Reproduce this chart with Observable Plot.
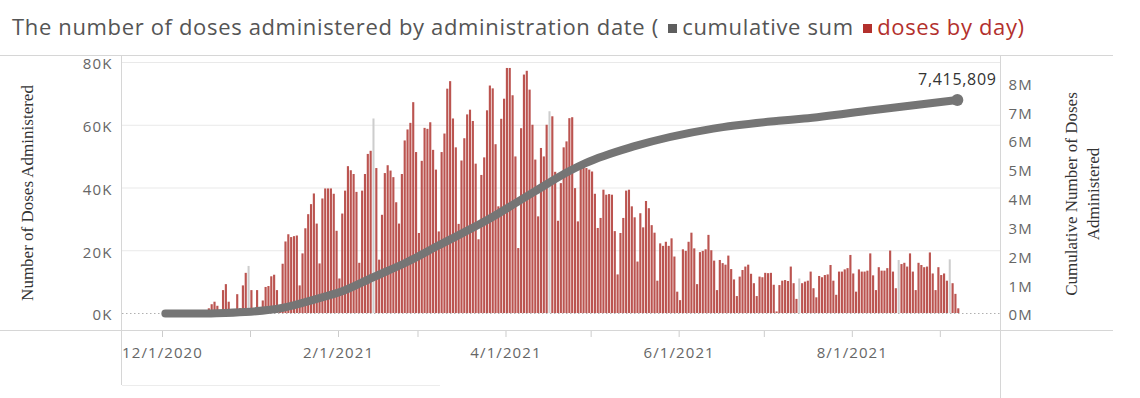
<!DOCTYPE html>
<html><head><meta charset="utf-8">
<script src="https://cdn.jsdelivr.net/npm/d3@7"></script>
<script src="https://cdn.jsdelivr.net/npm/@observablehq/plot@0.6"></script>
<style>
html,body{margin:0;padding:0;background:#fff;}
#wrap{position:relative;width:1140px;height:398px;overflow:hidden;background:#fff;}
#title{position:absolute;left:12px;top:12px;font-family:"Open Sans",sans-serif;font-size:22px;letter-spacing:0.65px;line-height:28px;color:#555;white-space:nowrap;}
.sq{display:inline-block;width:9px;height:9px;margin:0 5px 2px 3px;vertical-align:middle;}
#chart{position:absolute;left:0;top:50px;}
#chart [aria-label$="tick label"] text{letter-spacing:1.1px;}
#chart .valuelabel text{letter-spacing:0.7px;}
</style></head><body>
<div id="wrap">
<div id="title">The number of doses administered by administration date ( <span class="sq" style="background:#5e5e5e"></span>cumulative sum <span class="sq" style="background:#b3302d"></span><span style="color:#b3302d">doses by day)</span></div>
<div id="chart"></div>
</div>
<script>
// ---- data ----
const startDate = "2020-12-15";           // first daily bar
const dosesByDayK = [                     // thousands of doses, one per day
  0.3, 0.8, 1.5, 2.8, 3.6, 2.3, 0.6, 7.3, 9.2, 3.6, 0.3, 0.5, 6.0, 1.5,
  8.8, 12.8, 15.0, 7.3, 0.8, 7.3, 1.0, 4.0, 8.3, 8.6, 11.7, 12.2, 7.3, 1.5,
  15.7, 22.8, 25.1, 24.2, 24.5, 24.7, 8.8,
  19.0, 27.0, 31.5, 34.7, 38.1, 28.5, 15.8,
  36.5, 39.7, 39.7, 39.7, 38.0, 26.2, 11.0,
  31.7, 39.0, 46.8, 45.5, 44.3, 38.6, 16.0,
  39.0, 44.3, 50.7, 51.7, 62.0, 46.2, 17.0,
  31.3, 44.6, 47.1, 45.4, 43.3, 35.3, 28.5,
  44.3, 55.0, 58.5, 60.6, 67.2, 51.3, 25.5,
  48.5, 59.0, 58.7, 60.8, 52.0, 45.7, 26.0,
  51.3, 57.2, 71.5, 73.9, 62.0, 52.8, 28.4,
  48.6, 55.7, 63.3, 64.8, 61.2, 47.6, 23.5,
  44.0, 49.6, 64.6, 72.5, 71.6, 53.8, 34.0,
  61.9, 68.3, 78.1, 78.1, 69.4, 49.9, 20.7,
  58.9, 76.0, 77.2, 71.2, 60.0, 48.9, 30.8,
  52.6, 49.9, 60.0, 64.3, 62.7, 45.0, 29.4,
  41.4, 52.8, 54.7, 62.1, 62.4, 39.8, 29.2,
  46.2, 46.7, 46.2, 45.7, 45.1, 38.0, 27.1,
  30.3, 39.3, 37.7, 37.9, 37.7, 26.1, 12.3,
  25.5, 30.3, 39.0, 39.3, 34.0, 30.5, 16.4,
  31.8, 27.3, 35.7, 33.4, 28.0, 25.6, 10.3,
  22.2, 21.4, 22.7, 21.4, 23.8, 18.0, 6.8,
  4.1, 20.3, 19.8, 22.7, 25.6, 20.6, 9.2,
  19.4, 19.8, 20.3, 24.9, 20.0, 16.7, 7.3,
  16.9, 15.9, 15.4, 18.3, 14.0, 10.7, 5.4,
  11.6, 13.7, 14.8, 15.4, 12.5, 9.5, 5.4,
  11.6, 11.4, 12.8, 12.7, 12.8, 9.0, 0.5,
  8.9, 10.3, 10.5, 10.2, 14.8, 9.5, 4.5,
  11.0, 9.5, 10.0, 10.3, 13.2, 7.9, 5.0,
  11.8, 11.4, 12.1, 12.3, 15.3, 10.3, 5.8,
  13.2, 13.2, 13.9, 14.3, 18.5, 12.6, 6.8,
  13.9, 13.2, 13.2, 13.5, 19.0, 12.0, 7.3,
  14.6, 13.5, 13.5, 14.3, 19.9, 13.2, 7.9,
  16.9, 15.6, 16.0, 14.8, 19.0, 13.2, 7.3,
  16.0, 15.3, 14.6, 14.8, 19.3, 12.6, 7.3,
  14.6, 12.1, 12.6, 10.3, 17.1, 9.5, 6.1, 1.5
];
const greyDays = ["2020-12-31", "2021-02-13", "2021-04-16", "2021-07-13", "2021-08-17", "2021-09-04"];

const cumDates = ["2020-12-02", "2020-12-14", "2020-12-20", "2020-12-30", "2021-01-12", "2021-01-24",
  "2021-02-03", "2021-02-13", "2021-02-25", "2021-03-08", "2021-03-26", "2021-04-11", "2021-04-23",
  "2021-04-29", "2021-05-16", "2021-06-13", "2021-07-06", "2021-07-15", "2021-08-08", "2021-09-07"];
const cumValuesM = [0, 0, 0.01, 0.05, 0.19, 0.50, 0.80, 1.25, 1.78, 2.35, 3.28, 4.23, 4.93,
  5.22, 5.80, 6.42, 6.69, 6.77, 7.06, 7.415809];
const finalTotal = 7415809;

const leftTicksK = [0, 20, 40, 60, 80];
const rightTicksM = [0, 1, 2, 3, 4, 5, 6, 7, 8];
const monthTicks = ["2020-12-01", "2021-01-01", "2021-02-01", "2021-03-01", "2021-04-01", "2021-05-01",
  "2021-06-01", "2021-07-01", "2021-08-01", "2021-09-01"];
const xTickLabels = ["12/1/2020", "", "2/1/2021", "", "4/1/2021", "", "6/1/2021", "", "8/1/2021", ""];

const leftAxisTitle = "Number of Doses Administered";
const rightAxisTitle = "Cumulative Number of Doses\nAdministered";

// ---- build tables ----
const start = new Date(startDate + "T00:00Z");
const greySet = new Set(greyDays);
const daily = dosesByDayK.map((v, i) => {
  const date = d3.utcDay.offset(start, i);
  return {date, value: v * 1000, grey: greySet.has(d3.utcFormat("%Y-%m-%d")(date))};
});
const dualRatio = 0.00918; // cumulative doses -> left-axis units (dual axis)
const cum = cumDates.map((d, i) => ({date: new Date(d + "T00:00Z"), value: cumValuesM[i] * 1e6 * dualRatio}));
const last = [{date: cum[cum.length - 1].date, value: finalTotal * dualRatio, label: d3.format(",")(finalTotal)}];
const tickDates = monthTicks.map(d => new Date(d + "T00:00Z"));
const labelByTime = new Map(tickDates.map((d, i) => [d.getTime(), xTickLabels[i]]));

const x0 = new Date("2020-11-16T21:50Z"), x1 = new Date("2021-09-22T04:50Z");

const chart = Plot.plot({
  width: 1140, height: 348,
  marginLeft: 122, marginRight: 140, marginTop: 12, marginBottom: 85,
  x: {type: "utc", domain: [x0, x1]},
  y: {domain: [0, 80000]},
  style: {fontFamily: "'Open Sans', sans-serif", fontSize: "15px", color: "#666", background: "#fff"},
  marks: [
    Plot.gridY(leftTicksK.filter(k => k > 0).map(k => k * 1000), {stroke: "#e9e9e9", strokeOpacity: 1}),
    Plot.ruleY([0], {stroke: "#b0b0b0", strokeDasharray: "1.5,2.5"}),
    Plot.rectY(daily.filter(d => d.grey), {x: "date", interval: "day", y: "value", fill: "#cdcdcd", insetLeft: 0.4, insetRight: 0.4}),
    Plot.rectY(daily.filter(d => !d.grey), {x: "date", interval: "day", y: "value", fill: "#bb5450", insetLeft: 0.35, insetRight: 0.35}),
    Plot.line(cum, {x: "date", y: "value", stroke: "#757575", strokeWidth: 8, curve: "monotone-x", strokeLinecap: "round", strokeLinejoin: "round"}),
    Plot.dot(last, {x: "date", y: "value", r: 6, fill: "#757575"}),
    Plot.text(last, {x: "date", y: "value", text: "label", dy: -20, fontSize: 16, fill: "#333", className: "valuelabel"}),
    Plot.axisY({anchor: "left", ticks: leftTicksK.map(k => k * 1000), tickFormat: d => d / 1000 + "K", tickSize: 0, tickPadding: 10, dy: 2, fontSize: 15, label: null}),
    Plot.axisY({anchor: "right", ticks: rightTicksM.map(m => m * 1e6 * dualRatio), tickFormat: d => Math.round(d / dualRatio / 1e6) + "M", tickSize: 0, tickPadding: 8, dy: 2, fontSize: 15, label: null}),
    Plot.axisX({ticks: tickDates, tickFormat: d => labelByTime.get(d.getTime()) ?? "", tickSize: 6, tickPadding: 10, dy: 18, stroke: "#cccccc", fontSize: 15, label: null}),
    Plot.text([leftAxisTitle], {frameAnchor: "left", textAnchor: "middle", dx: -95, dy: 5, rotate: -90, fontFamily: "'Liberation Serif', serif", fontSize: 17, fill: "#333"}),
    Plot.text([rightAxisTitle], {frameAnchor: "right", textAnchor: "middle", dx: 80, dy: 6, rotate: -90, lineHeight: 1.3, fontFamily: "'Liberation Serif', serif", fontSize: 17, fill: "#333"})
  ]
});

// pane borders (Tableau-style layout lines)
const svg = d3.select(chart);
const g = svg.append("g").attr("stroke", "#d6d6d6").attr("stroke-width", 1).attr("fill", "none");
g.append("line").attr("x1", 0).attr("x2", 1113).attr("y1", 5.5).attr("y2", 5.5);
g.append("line").attr("x1", 0).attr("x2", 1113).attr("y1", 280.5).attr("y2", 280.5);
g.append("line").attr("x1", 121.5).attr("x2", 121.5).attr("y1", 5).attr("y2", 335);
g.append("line").attr("x1", 1000.5).attr("x2", 1000.5).attr("y1", 5).attr("y2", 348);
g.append("line").attr("x1", 122).attr("x2", 440).attr("y1", 335.5).attr("y2", 335.5).attr("stroke", "#ececec");
document.getElementById("chart").appendChild(chart);
</script>
</body></html>
